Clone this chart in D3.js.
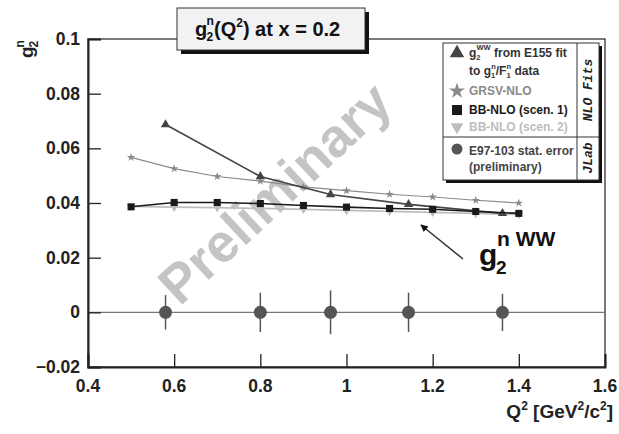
<!DOCTYPE html>
<html>
<head>
<meta charset="utf-8">
<script src="https://cdn.jsdelivr.net/npm/d3@7"></script>
<style>
  body { margin: 0; background: #fff; }
  svg { display: block; }
</style>
</head>
<body>
<div id="chart"></div>
<script>
let font = "Liberation Sans, Arial, Helvetica, sans-serif"

// Q2 values of the data / models
let q2Modell = [0.5, 0.6, 0.7, 0.8, 0.9, 1.0, 1.1, 1.2, 1.3, 1.4];
let q2Daten = [0.58, 0.80, 0.963, 1.144, 1.362];

// g2 WW from E155 fit (at data Q2)
let e155 = [0.0687, 0.0497, 0.0431, 0.0395, 0.0362];
// GRSV-NLO
let grsv = [0.0567, 0.0526, 0.0497, 0.0480, 0.0459, 0.0445, 0.0432, 0.0422, 0.0410, 0.0400];
// BB-NLO scen. 1
let bb1 = [0.0386, 0.0402, 0.0402, 0.0398, 0.0391, 0.0385, 0.0380, 0.0377, 0.0369, 0.0362];
// BB-NLO scen. 2
let bb2 = [0.0388, 0.0385, 0.0383, 0.0380, 0.0377, 0.0373, 0.0369, 0.0366, 0.0362, 0.0358];
// E97-103 (preliminary), values and stat. errors
let e97 = [0, 0, 0, 0, 0];
let e97Fehler = [0.0063, 0.0072, 0.0080, 0.0072, 0.0068];

let xTicks = [0.4, 0.6, 0.8, 1, 1.2, 1.4, 1.6];
let yTicks = [-0.02, 0, 0.02, 0.04, 0.06, 0.08, 0.1];

let width = 619, height = 434;
let margin = { top: 39, right: 14, bottom: 67, left: 88 };

let svg = d3.select("#chart").append("svg")
    .attr("width", width)
    .attr("height", height)
    .attr("font-family", font);

var x = d3.scaleLinear().domain([0.4, 1.6]).range([margin.left, width - margin.right]);
var y = d3.scaleLinear().domain([-0.02, 0.1]).range([height - margin.bottom, margin.top]);

// Preliminary watermark
svg.append("text")
    .attr("transform", "translate(" + x(0.84) + "," + y(0.0425) + ") rotate(-43)")
    .attr("text-anchor", "middle")
    .attr("dominant-baseline", "middle")
    .attr("font-size", "54px")
    .attr("font-weight", "bold")
    .attr("fill", "#c4c4c4")
    .text("Preliminary");

// frame (top & right)
svg.append("rect")
    .attr("x", x(0.4)).attr("y", y(0.1))
    .attr("width", x(1.6) - x(0.4)).attr("height", y(-0.02) - y(0.1))
    .attr("fill", "none").attr("stroke", "#333").attr("stroke-width", 1.3);

// zero line
svg.append("line")
    .attr("x1", x(0.4)).attr("x2", x(1.6))
    .attr("y1", y(0)).attr("y2", y(0))
    .attr("stroke", "#777").attr("stroke-width", 1.2);

// axes, ticks inside (ROOT style)
let xAchse = svg.append("g").attr("transform", "translate(0," + y(-0.02) + ")");
xAchse.call(d3.axisTop(x).tickValues(d3.range(0.4, 1.6001, 0.05)).tickSize(7).tickFormat(""));
xAchse.call(d3.axisTop(x).tickValues(xTicks).tickSize(13).tickFormat(""));
xAchse.selectAll(".domain").attr("stroke", "#222").attr("stroke-width", 2);
xAchse.selectAll(".tick line").attr("stroke", "#222").attr("stroke-width", 1.3);

let xLabels = svg.append("g");
xLabels.selectAll("text").data(xTicks).enter().append("text")
    .attr("x", d => x(d))
    .attr("y", y(-0.02) + 25)
    .attr("text-anchor", "middle")
    .attr("font-size", "17.5px")
    .attr("font-weight", "bold")
    .attr("fill", "#222")
    .text(d => d3.format("")(d));

let yAchse = svg.append("g").attr("transform", "translate(" + x(0.4) + ",0)");
yAchse.call(d3.axisRight(y).tickValues(d3.range(-0.02, 0.1001, 0.005)).tickSize(7).tickFormat(""));
yAchse.call(d3.axisRight(y).tickValues(yTicks).tickSize(13).tickFormat(""));
yAchse.selectAll(".domain").attr("stroke", "#222").attr("stroke-width", 2);
yAchse.selectAll(".tick line").attr("stroke", "#222").attr("stroke-width", 1.3);

let yLabels = svg.append("g");
yLabels.selectAll("text").data(yTicks).enter().append("text")
    .attr("x", x(0.4) - 8)
    .attr("y", d => y(d) + 6)
    .attr("text-anchor", "end")
    .attr("font-size", "17.5px")
    .attr("font-weight", "bold")
    .attr("fill", "#222")
    .text(d => d === 0 ? "0" : d3.format("")(+d.toFixed(2)));

// axis titles
let xt = svg.append("text")
    .attr("x", 613).attr("y", 418)
    .attr("text-anchor", "end")
    .attr("font-size", "19px").attr("font-weight", "bold").attr("fill", "#222");
xt.append("tspan").text("Q");
xt.append("tspan").attr("dy", -8).attr("font-size", "12px").text("2");
xt.append("tspan").attr("dy", 8).text(" [GeV");
xt.append("tspan").attr("dy", -8).attr("font-size", "12px").text("2");
xt.append("tspan").attr("dy", 8).text("/c");
xt.append("tspan").attr("dy", -8).attr("font-size", "12px").text("2");
xt.append("tspan").attr("dy", 8).text("]");

let yt = svg.append("g").attr("transform", "translate(33,58) rotate(-90)")
    .attr("font-weight", "bold").attr("fill", "#222");
yt.append("text").attr("x", 0).attr("y", 0).attr("font-size", "19px").text("g");
yt.append("text").attr("x", 10.5).attr("y", 5).attr("font-size", "12px").text("2");
yt.append("text").attr("x", 10.5).attr("y", -9).attr("font-size", "12px").text("n");

// lines
let linie = d3.line().x(d => x(d[0])).y(d => y(d[1]));

function zeichneSerie(qs, werte, farbe, breite, symbol, groesse, drehung) {
    let punkte = qs.map((q, i) => [q, werte[i]]);
    svg.append("path").datum(punkte)
        .attr("d", linie)
        .attr("fill", "none")
        .attr("stroke", farbe)
        .attr("stroke-width", breite);
    svg.append("g").selectAll("path").data(punkte).enter().append("path")
        .attr("d", d3.symbol().type(symbol).size(groesse))
        .attr("transform", d => "translate(" + x(d[0]) + "," + y(d[1]) + ") rotate(" + drehung + ")")
        .attr("fill", farbe);
}

zeichneSerie(q2Modell, bb2, "#bdbdbd", 1.8, d3.symbolTriangle, 30, 180);
zeichneSerie(q2Modell, grsv, "#8a8a8a", 1.2, d3.symbolStar, 22, 0);
zeichneSerie(q2Daten, e155, "#444", 1.6, d3.symbolTriangle, 38, 0);
zeichneSerie(q2Modell, bb1, "#1a1a1a", 1.6, d3.symbolSquare, 50, 0);

// E97-103 data with error bars
let e97Punkte = q2Daten.map((q, i) => ({ q: q, v: e97[i], f: e97Fehler[i] }));
svg.append("g").selectAll("line").data(e97Punkte).enter().append("line")
    .attr("x1", d => x(d.q)).attr("x2", d => x(d.q))
    .attr("y1", d => y(d.v - d.f)).attr("y2", d => y(d.v + d.f))
    .attr("stroke", "#555").attr("stroke-width", 1.5);
svg.append("g").selectAll("circle").data(e97Punkte).enter().append("circle")
    .attr("cx", d => x(d.q)).attr("cy", d => y(d.v))
    .attr("r", 6.5)
    .attr("fill", "#555");

// arrow and g2 WW label
svg.append("defs").append("marker")
    .attr("id", "pfeil").attr("viewBox", "0 0 10 10")
    .attr("refX", 9).attr("refY", 5)
    .attr("markerWidth", 5).attr("markerHeight", 5)
    .attr("orient", "auto")
    .append("path").attr("d", "M0,0 L10,5 L0,10 z").attr("fill", "#111");
svg.append("line")
    .attr("x1", 463).attr("y1", 259).attr("x2", 421).attr("y2", 225)
    .attr("stroke", "#333").attr("stroke-width", 1.5)
    .attr("marker-end", "url(#pfeil)");
let gww = svg.append("g").attr("font-weight", "bold").attr("fill", "#111");
gww.append("text").attr("x", 479).attr("y", 265).attr("font-size", "30px").text("g");
gww.append("text").attr("x", 496).attr("y", 274).attr("font-size", "19px").text("2");
gww.append("text").attr("x", 497).attr("y", 246).attr("font-size", "21px").text("n WW");

// title box
svg.append("rect").attr("x", 181).attr("y", 12).attr("width", 188).attr("height", 42).attr("fill", "#111");
svg.append("rect").attr("x", 177).attr("y", 8).attr("width", 188).attr("height", 42)
    .attr("fill", "#f2f2f2").attr("stroke", "#333").attr("stroke-width", 1);
let titel = svg.append("g").attr("font-weight", "bold").attr("fill", "#111");
titel.append("text").attr("x", 195).attr("y", 36).attr("font-size", "20px").text("g");
titel.append("text").attr("x", 206.5).attr("y", 41).attr("font-size", "12px").text("2");
titel.append("text").attr("x", 206.5).attr("y", 25).attr("font-size", "12px").text("n");
let tt = titel.append("text").attr("x", 214).attr("y", 36).attr("font-size", "20px");
tt.append("tspan").text("(Q");
tt.append("tspan").attr("dy", -9).attr("font-size", "12px").text("2");
tt.append("tspan").attr("dy", 9).text(") at x = 0.2");

// legend
let lx = 443, ly = 43, lw = 156, lh = 137;
svg.append("rect").attr("x", lx + 3).attr("y", ly + 3).attr("width", lw).attr("height", lh).attr("fill", "#111");
svg.append("rect").attr("x", lx).attr("y", ly).attr("width", lw).attr("height", lh)
    .attr("fill", "#fff").attr("stroke", "#333").attr("stroke-width", 1);
svg.append("line").attr("x1", lx + 134).attr("x2", lx + 134).attr("y1", ly).attr("y2", ly + lh)
    .attr("stroke", "#333").attr("stroke-width", 1);
svg.append("line").attr("x1", lx).attr("x2", lx + lw).attr("y1", 137).attr("y2", 137)
    .attr("stroke", "#333").attr("stroke-width", 1);

let legende = svg.append("g").attr("font-size", "12px").attr("font-weight", "bold");
let mx = 457, tx = 469;

legende.append("path").attr("d", d3.symbol().type(d3.symbolTriangle).size(90)())
    .attr("transform", "translate(" + mx + ",53)").attr("fill", "#444");
let l1 = legende.append("text").attr("x", tx).attr("y", 57).attr("fill", "#333");
l1.append("tspan").text("g");
l1.append("tspan").attr("dy", 3).attr("font-size", "7.5px").text("2");
l1.append("tspan").attr("dx", -4).attr("dy", -10).attr("font-size", "7.5px").text("WW");
l1.append("tspan").attr("dy", 7).text(" from E155 fit");
let l2 = legende.append("text").attr("x", tx).attr("y", 75).attr("fill", "#333");
l2.append("tspan").text("to g");
l2.append("tspan").attr("dy", 3).attr("font-size", "7.5px").text("1");
l2.append("tspan").attr("dx", -4).attr("dy", -9).attr("font-size", "7.5px").text("n");
l2.append("tspan").attr("dy", 6).text("/F");
l2.append("tspan").attr("dy", 3).attr("font-size", "7.5px").text("1");
l2.append("tspan").attr("dx", -4).attr("dy", -9).attr("font-size", "7.5px").text("n");
l2.append("tspan").attr("dy", 6).text(" data");

legende.append("path").attr("d", d3.symbol().type(d3.symbolStar).size(80)())
    .attr("transform", "translate(" + mx + ",91)").attr("fill", "#8a8a8a");
legende.append("text").attr("x", tx).attr("y", 95).attr("fill", "#8a8a8a").text("GRSV-NLO");

legende.append("path").attr("d", d3.symbol().type(d3.symbolSquare).size(100)())
    .attr("transform", "translate(" + mx + ",110)").attr("fill", "#1a1a1a");
legende.append("text").attr("x", tx).attr("y", 114).attr("fill", "#1a1a1a").text("BB-NLO (scen. 1)");

legende.append("path").attr("d", d3.symbol().type(d3.symbolTriangle).size(70)())
    .attr("transform", "translate(" + mx + ",127) rotate(180)").attr("fill", "#bdbdbd");
legende.append("text").attr("x", tx).attr("y", 131).attr("fill", "#bdbdbd").text("BB-NLO (scen. 2)");

legende.append("circle").attr("cx", mx).attr("cy", 149).attr("r", 5.5).attr("fill", "#555");
legende.append("text").attr("x", tx).attr("y", 155).attr("fill", "#444").text("E97-103 stat. error");
legende.append("text").attr("x", tx).attr("y", 171).attr("fill", "#444").text("(preliminary)");

// rotated group labels
svg.append("text")
    .attr("transform", "translate(592,90) rotate(-90)")
    .attr("text-anchor", "middle")
    .attr("font-family", "Liberation Mono, DejaVu Sans Mono, monospace")
    .attr("font-size", "13px").attr("font-weight", "bold").attr("font-style", "italic")
    .attr("fill", "#222")
    .text("NLO Fits");
svg.append("text")
    .attr("transform", "translate(592,158) rotate(-90)")
    .attr("text-anchor", "middle")
    .attr("font-family", "Liberation Mono, DejaVu Sans Mono, monospace")
    .attr("font-size", "13px").attr("font-weight", "bold").attr("font-style", "italic")
    .attr("fill", "#222")
    .text("JLab");
</script>
</body>
</html>
